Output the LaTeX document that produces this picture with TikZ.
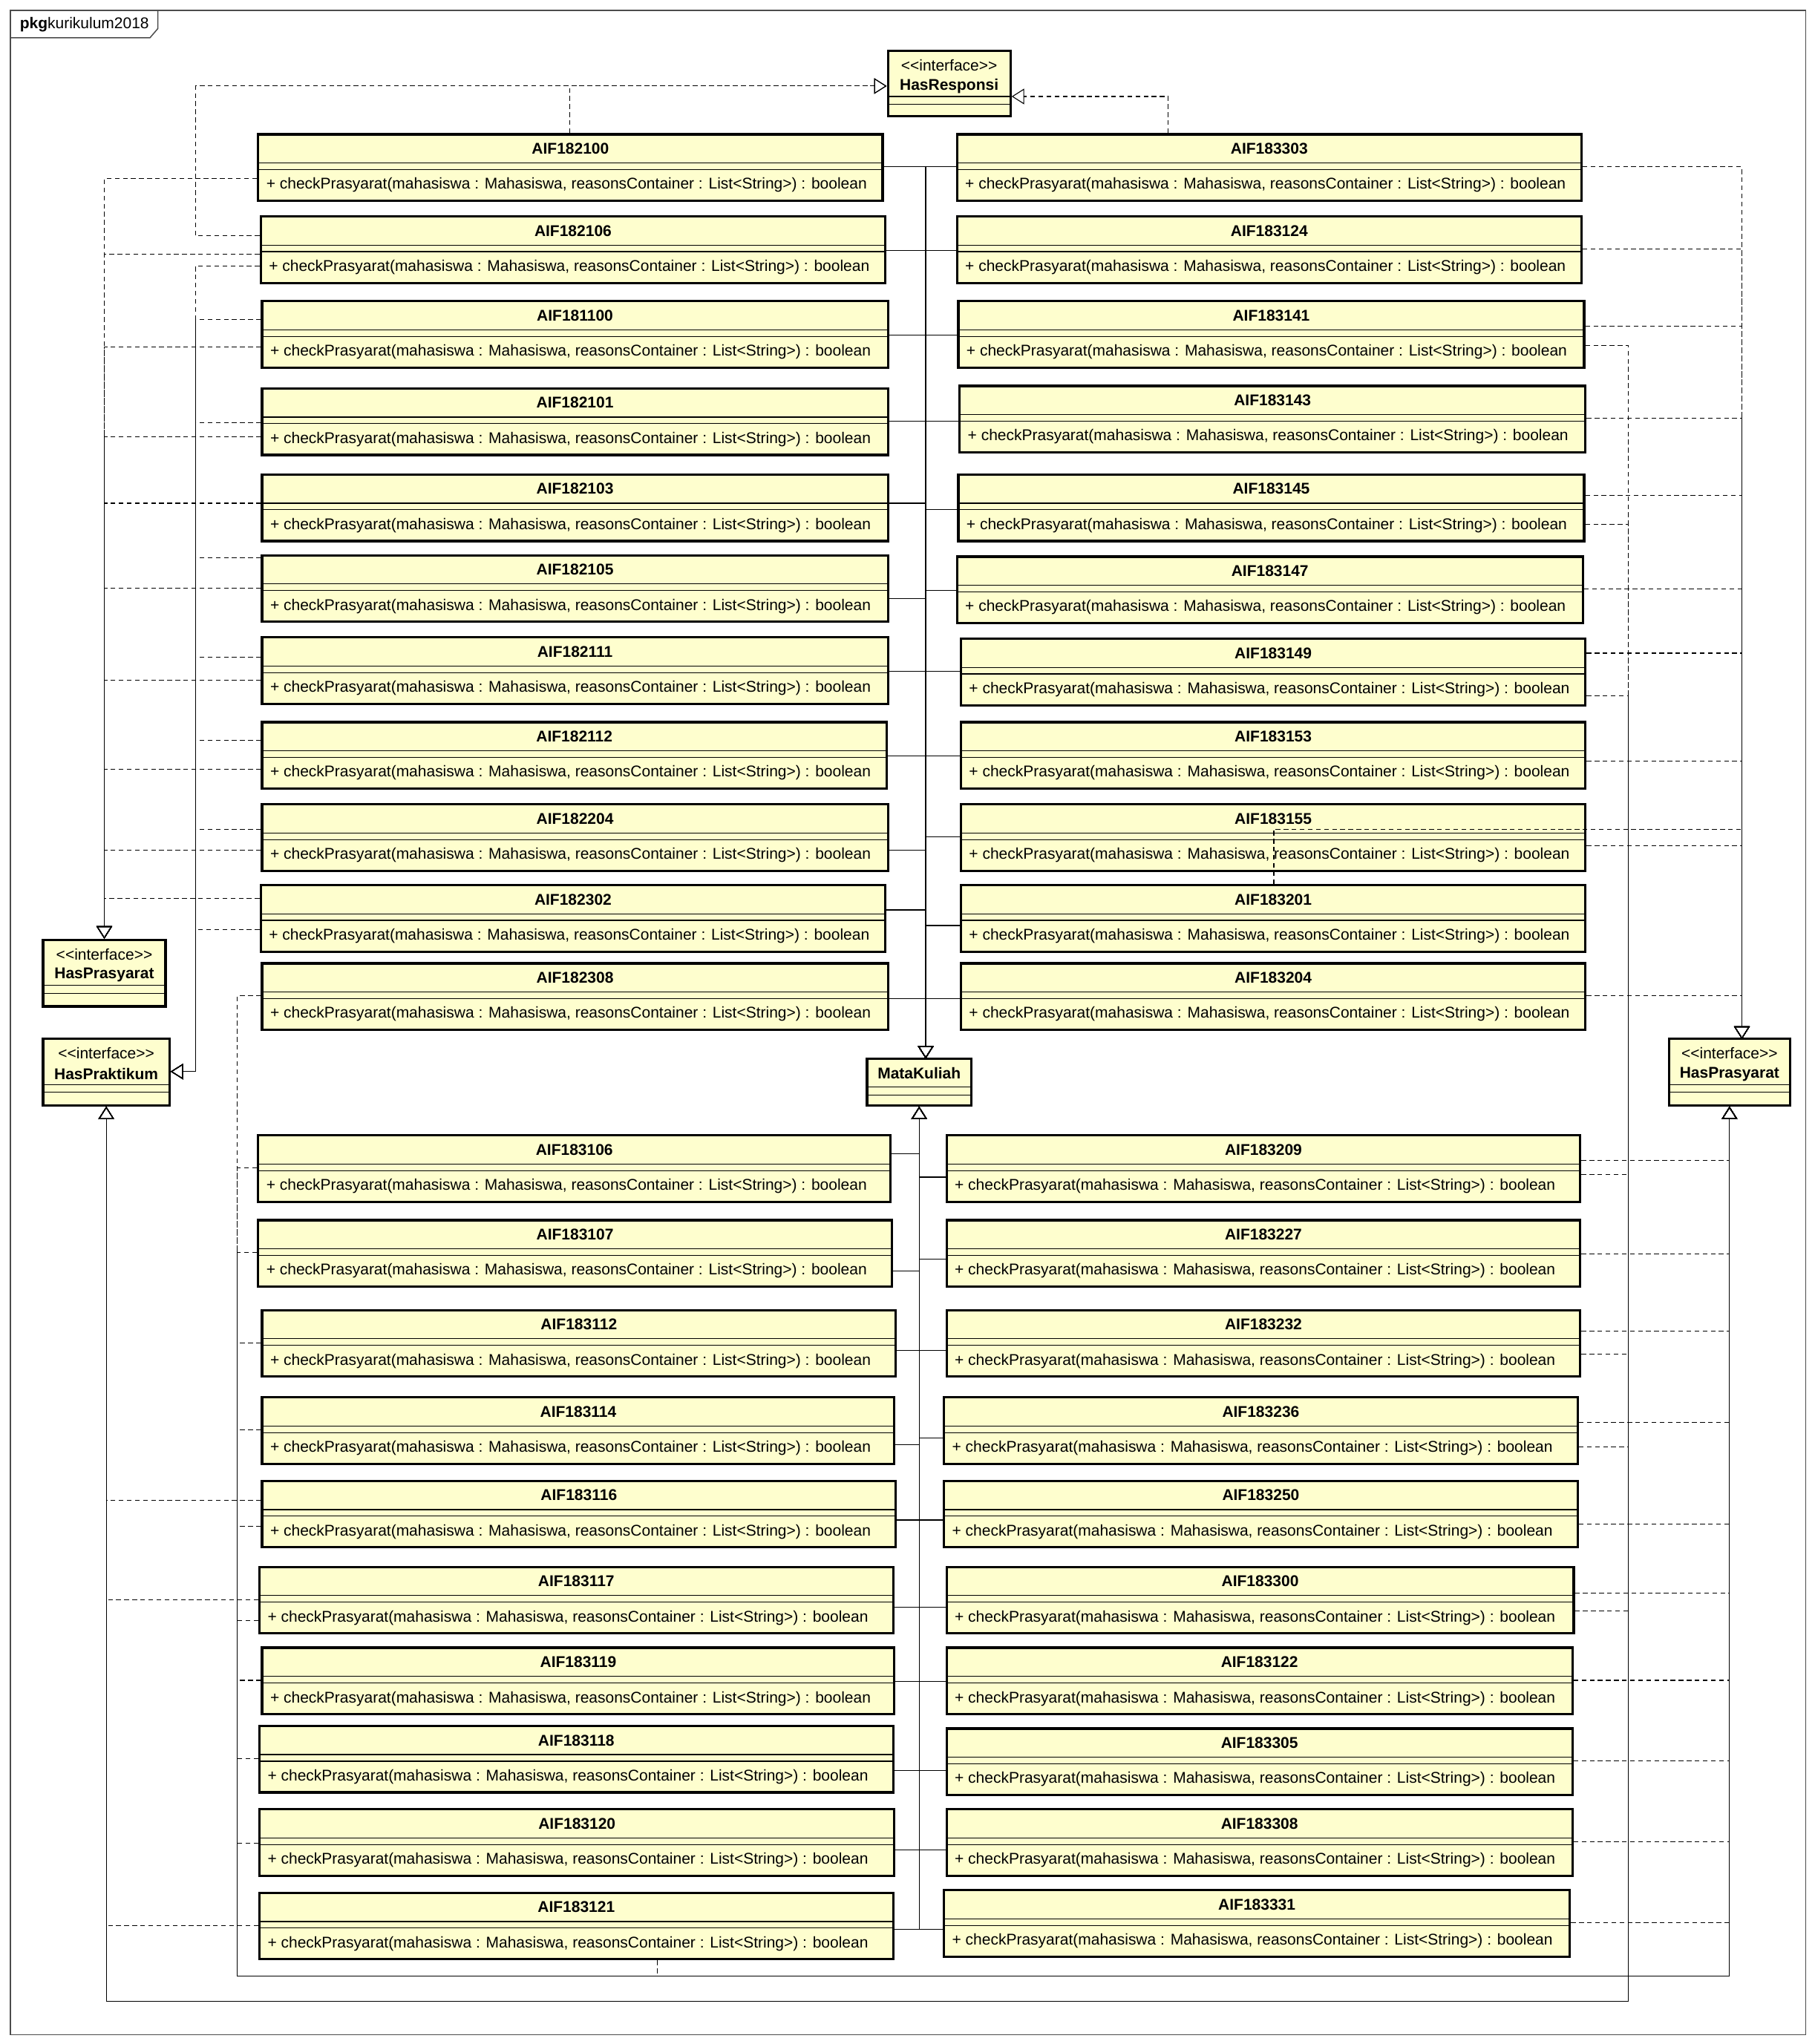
\documentclass[tikz,border=0pt]{standalone}
\usepackage{fontspec}
\setmainfont{Liberation Sans}
\usepackage{xcolor}
\usepackage{tikz}
\usetikzlibrary{arrows.meta}
\definecolor{kuning}{RGB}{254,254,206}

\tikzset{
  kelasbox/.style={draw, line width=1.3pt, fill=kuning, inner sep=0pt},
  judul/.style={font=\bfseries\fontsize{8.5}{10}\selectfont, inner sep=0pt},
  biasa/.style={font=\fontsize{8.5}{10}\selectfont, inner sep=0pt},
  metode/.style={anchor=west, font=\fontsize{8.5}{10}\selectfont, inner sep=0pt},
  sekat/.style={line width=0.5pt},
  realisasi/.style={line width=0.45pt, dash pattern=on 0.9mm off 0.65mm,
    -{Triangle[open, length=2.4mm, width=3mm]}},
  turunan/.style={line width=0.45pt, -{Triangle[open, length=2.4mm, width=3mm]}},
}

% kelas mata kuliah: nama, kiri, atas, kanan, kode
\newcommand{\kelas}[5]{%
  \node[kelasbox, minimum width={(#4-#2)*0.25mm}, minimum height={51*0.25mm}]
    (#1) at ({(#2+#4)/2},{#3+25.5}) {};
  \node[judul] at ({(#2+#4)/2},{#3+11}) {#5};
  \draw[sekat] ({#2},{#3+22}) -- ({#4},{#3+22}) ({#2},{#3+27}) -- ({#4},{#3+27});
  \node[metode] at ({#2+6},{#3+39})
    {+ checkPrasyarat(mahasiswa : Mahasiswa, reasonsContainer : List<String>) : boolean};
}

% interface: nama, kiri, atas, kanan, bawah, judul
\newcommand{\antarmuka}[6]{%
  \node[kelasbox, minimum width={(#4-#2)*0.25mm}, minimum height={(#5-#3)*0.25mm}]
    (#1) at ({(#2+#4)/2},{(#3+#5)/2}) {};
  \node[biasa] at ({(#2+#4)/2},{#3+11}) {\symbol{60}\symbol{60}interface\symbol{62}\symbol{62}};
  \node[judul] at ({(#2+#4)/2},{#3+27}) {#6};
  \draw[sekat] ({#2},{#3+35}) -- ({#4},{#3+35}) ({#2},{#3+41}) -- ({#4},{#3+41});
}

\begin{document}
\begin{tikzpicture}[x=0.25mm, y=-0.25mm]
\useasboundingbox (0,0) rectangle (1392,1568);

% bingkai paket
\draw[line width=0.6pt, black!70] (8,8) rectangle (1385,1561);
\draw[line width=0.6pt, black!70] (8,29) -- (115,29) -- (121,22) -- (121,8);
\node[biasa, anchor=west] (pkg) at (15,19) {\textbf{pkg}kurikulum2018};

% interface dan kelas induk
\antarmuka{HR}{681}{39}{775}{89}{HasResponsi}
\antarmuka{HPL}{33}{721}{127}{772}{HasPrasyarat}
\antarmuka{HPK}{33}{797}{130}{848}{HasPraktikum}
\antarmuka{HPR}{1280}{797}{1373}{848}{HasPrasyarat}
\node[kelasbox, minimum width={80*0.25mm}, minimum height={36*0.25mm}] (MK) at (705,830) {};
\node[judul] at (705,823) {MataKuliah};
\draw[sekat] (665,834) -- (745,834) (665,840) -- (745,840);

% kolom kiri atas
\kelas{L1}{198}{103}{677}{AIF182100}
\kelas{L2}{200}{166}{679}{AIF182106}
\kelas{L3}{201}{231}{681}{AIF181100}
\kelas{L4}{201}{298}{681}{AIF182101}
\kelas{L5}{201}{364}{681}{AIF182103}
\kelas{L6}{201}{426}{681}{AIF182105}
\kelas{L7}{201}{489}{681}{AIF182111}
\kelas{L8}{201}{554}{680}{AIF182112}
\kelas{L9}{201}{617}{681}{AIF182204}
\kelas{L10}{200}{679}{679}{AIF182302}
\kelas{L11}{201}{739}{681}{AIF182308}

% kolom kanan atas
\kelas{R1}{734}{103}{1213}{AIF183303}
\kelas{R2}{734}{166}{1213}{AIF183124}
\kelas{R3}{735}{231}{1215}{AIF183141}
\kelas{R4}{736}{296}{1216}{AIF183143}
\kelas{R5}{735}{364}{1215}{AIF183145}
\kelas{R6}{734}{427}{1214}{AIF183147}
\kelas{R7}{737}{490}{1216}{AIF183149}
\kelas{R8}{737}{554}{1216}{AIF183153}
\kelas{R9}{737}{617}{1216}{AIF183155}
\kelas{R10}{737}{679}{1216}{AIF183201}
\kelas{R11}{737}{739}{1216}{AIF183204}

% kolom kiri bawah
\kelas{B1}{198}{871}{683}{AIF183106}
\kelas{B2}{198}{936}{684}{AIF183107}
\kelas{B3}{201}{1005}{687}{AIF183112}
\kelas{B4}{201}{1072}{686}{AIF183114}
\kelas{B5}{201}{1136}{687}{AIF183116}
\kelas{B6}{199}{1202}{685}{AIF183117}
\kelas{B7}{201}{1264}{686}{AIF183119}
\kelas{B8}{199}{1324}{685}{AIF183118}
\kelas{B9}{199}{1388}{686}{AIF183120}
\kelas{B10}{199}{1452}{685}{AIF183121}

% kolom kanan bawah
\kelas{C1}{726}{871}{1212}{AIF183209}
\kelas{C2}{726}{936}{1212}{AIF183227}
\kelas{C3}{726}{1005}{1212}{AIF183232}
\kelas{C4}{724}{1072}{1210}{AIF183236}
\kelas{C5}{724}{1136}{1210}{AIF183250}
\kelas{C6}{726}{1202}{1207}{AIF183300}
\kelas{C7}{726}{1264}{1206}{AIF183122}
\kelas{C8}{726}{1326}{1206}{AIF183305}
\kelas{C9}{726}{1388}{1206}{AIF183308}
\kelas{C10}{724}{1450}{1204}{AIF183331}

% titik belok
\coordinate (mkatas) at (710,812);
\coordinate (rsbend) at (150,66);
\coordinate (pkbend) at (150,822);
\coordinate (pkbus) at (1249,1535);
\coordinate (prbus) at (182,1516);
\coordinate (prtop) at (1336,797);
\coordinate (c201) at (977,636);
\coordinate (pr121) at (504,1516);

% pewarisan ke MataKuliah
\foreach \kls/\yy in {L1/128, L2/192, L3/257, L4/323, L5/386, L6/459, L7/515, L8/580, L9/652, L10/698, L11/766}
  \draw[turunan] (\kls.east |- 0,\yy) -| (mkatas);
\foreach \kls/\yy in {R1/128, R2/192, R3/257, R4/323, R5/391, R6/453, R7/515, R8/580, R9/642, R10/710, R11/766}
  \draw[turunan] (\kls.west |- 0,\yy) -| (mkatas);
\foreach \kls/\yy in {B1/885, B2/975, B3/1036, B4/1108, B5/1166, B6/1233, B7/1290, B8/1358, B9/1419, B10/1480}
  \draw[turunan] (\kls.east |- 0,\yy) -| (MK.south);
\foreach \kls/\yy in {C1/903, C2/966, C3/1036, C4/1103, C5/1166, C6/1233, C7/1290, C8/1358, C9/1419, C10/1480}
  \draw[turunan] (\kls.west |- 0,\yy) -| (MK.south);

% HasResponsi
\draw[realisasi] (L1.north -| 437,0) |- (HR.west |- 0,66);
\draw[realisasi] (L2.west |- 0,181) -| (rsbend) -- (HR.west |- rsbend);
\draw[realisasi] (R1.north -| 896,0) |- (HR.east |- 0,74);

% HasPrasyarat kiri
\foreach \kls/\yy in {L1/137, L2/195, L3/266, L4/335, L5/386, L6/451, L7/522, L8/590, L9/652, L10/689}
  \draw[realisasi] (\kls.west |- 0,\yy) -| (HPL.north);

% HasPraktikum
\foreach \kls/\yy in {L2/204, L3/245, L4/324, L6/428, L7/504, L8/568, L9/636, L10/713}
  \draw[realisasi] (\kls.west |- 0,\yy) -| (pkbend) -- (HPK.east |- pkbend);
\foreach \kls/\yy in {B5/1151, B6/1227, B10/1477}
  \draw[realisasi] (\kls.west |- 0,\yy) -| (HPK.south);
\foreach \kls/\yy in {R3/265, R5/402, R7/534, C1/901, C3/1039, C4/1110, C6/1236}
  \draw[realisasi] (\kls.east |- 0,\yy) -| (pkbus) -| (HPK.south);

% HasPrasyarat kanan
\foreach \kls/\yy in {R1/128, R2/191, R3/250, R4/321, R5/380, R6/452, R7/501, R8/584, R9/649, R11/764}
  \draw[realisasi] (\kls.east |- 0,\yy) -| (prtop);
\draw[realisasi] (R10.north -| c201) -- (c201) -| (prtop);
\foreach \kls/\yy in {C1/890, C2/962, C3/1021, C4/1091, C5/1169, C6/1222, C7/1289, C8/1351, C9/1413, C10/1475}
  \draw[realisasi] (\kls.east |- 0,\yy) -| (HPR.south);
\foreach \kls/\yy in {L11/764, B1/896, B2/961, B3/1030, B4/1097, B5/1171, B6/1243, B7/1289, B8/1349, B9/1414}
  \draw[realisasi] (\kls.west |- 0,\yy) -| (prbus) -| (HPR.south);
\draw[realisasi] (B10.south -| pr121) -- (pr121) -| (HPR.south);
\end{tikzpicture}
\end{document}
